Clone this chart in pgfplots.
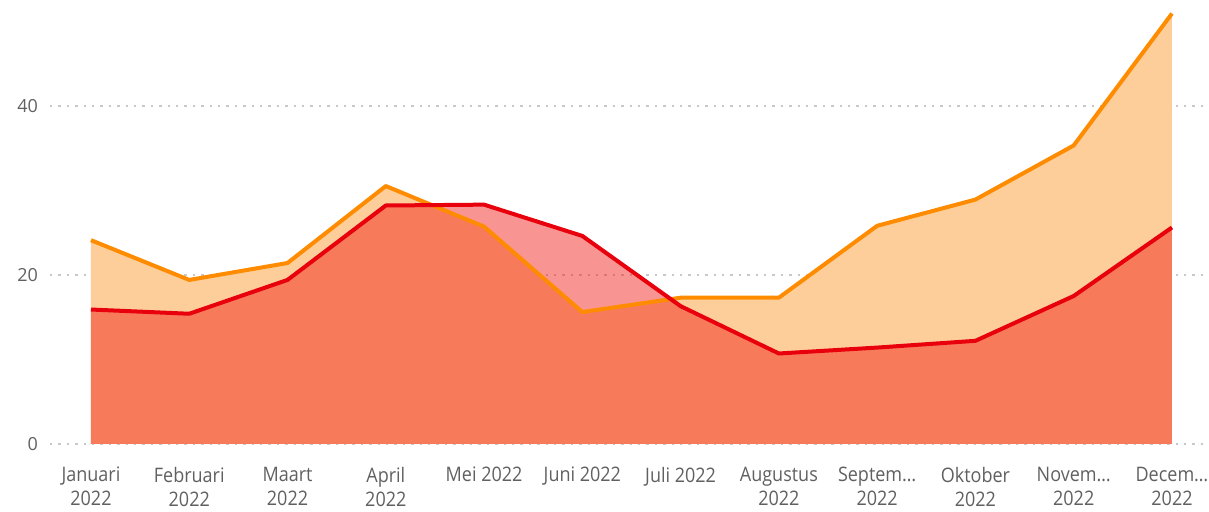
\documentclass[border=0pt]{standalone}
\usepackage{pgfplots}
\pgfplotsset{compat=1.18}
\usepackage{fontspec}
\setmainfont{Open Sans}
\newfontfamily\narrowfont{Open Sans}[FakeStretch=0.9]
\definecolor{ordline}{RGB}{255,140,0}
\definecolor{ordfill}{RGB}{253,206,153}
\definecolor{redline}{RGB}{232,0,12}
\definecolor{redfill}{RGB}{240,20,15}
\definecolor{lblgray}{RGB}{96,96,96}
\definecolor{gridgray}{RGB}{200,200,200}
\begin{document}
\begin{tikzpicture}
\useasboundingbox (0,0) rectangle (604.5pt,256pt);
\begin{axis}[
  at={(25pt,34pt)}, anchor=south west,
  scale only axis, width=577.5pt, height=222pt,
  xmin=-0.417, xmax=11.336, ymin=0, ymax=52.5,
  axis line style={draw=none},
  major tick length=0pt,
  ytick={0,20,40},
  ymajorgrids,
  grid style={gridgray, line width=0.9pt, dash pattern=on 1.2pt off 3pt},
  xtick={0,1,2,3,4,5,6,7,8,9,10,11},
  xticklabels={{Januari\\2022},{Februari\\2022},{Maart\\2022},{April\\2022},{Mei 2022},{Juni 2022},{Juli 2022},{Augustus\\2022},{Septem…\\2022},{Oktober\\2022},{Novem…\\2022},{Decem…\\2022}},
  xticklabel style={font=\narrowfont\fontsize{10pt}{12pt}\selectfont, align=center, text=lblgray, yshift=-8pt},
  yticklabel style={font=\fontsize{9pt}{10pt}\selectfont, text=lblgray, xshift=-2.5pt},
  /pgf/number format/assume math mode=true,
  clip=false,
]
\addplot[draw=none, fill=ordfill] coordinates {
(0,24.1) (1,19.4) (2,21.4) (3,30.5) (4,25.7) (5,15.6) (6,17.3) (7,17.3) (8,25.8) (9,28.9) (10,35.3) (11,50.9)
} \closedcycle;
\addplot[draw=none, fill=redfill, fill opacity=0.45] coordinates {
(0,15.9) (1,15.4) (2,19.4) (3,28.2) (4,28.3) (5,24.6) (6,16.3) (7,10.7) (8,11.4) (9,12.2) (10,17.5) (11,25.6)
} \closedcycle;
\addplot[ordline, line width=2pt, mark=none, line join=round] coordinates {
(0,24.1) (1,19.4) (2,21.4) (3,30.5) (4,25.7) (5,15.6) (6,17.3) (7,17.3) (8,25.8) (9,28.9) (10,35.3) (11,50.9)
};
\addplot[redline, line width=2pt, mark=none, line join=round] coordinates {
(0,15.9) (1,15.4) (2,19.4) (3,28.2) (4,28.3) (5,24.6) (6,16.3) (7,10.7) (8,11.4) (9,12.2) (10,17.5) (11,25.6)
};
\end{axis}
\end{tikzpicture}
\end{document}
